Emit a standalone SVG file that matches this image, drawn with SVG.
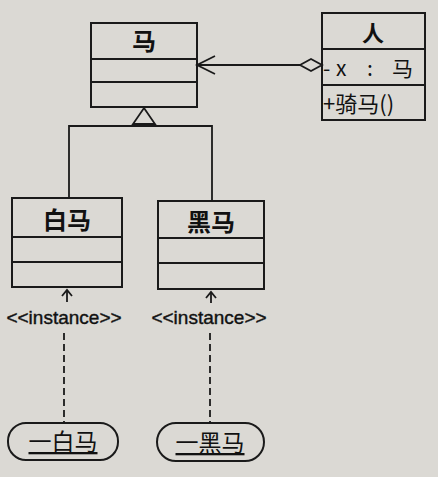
<svg xmlns="http://www.w3.org/2000/svg" width="438" height="477" viewBox="0 0 438 477">
<defs>
<style>
.box{fill:none;stroke:#1a1a1a;stroke-width:2}
.ln{fill:none;stroke:#1a1a1a;stroke-width:1.8}
.t{font-family:"Noto Sans CJK SC","Liberation Sans",sans-serif;fill:#111}
.nm{font-size:20px;font-weight:bold;text-anchor:middle}
.st{font-size:19px;text-anchor:middle;font-family:"Liberation Sans",sans-serif;fill:#111;stroke:#111;stroke-width:0.4}
.ob{font-size:21px;text-anchor:middle;text-decoration:underline}
</style>
</defs>
<rect width="438" height="477" fill="#dbd9d4"/>
<g id="ma">
<rect class="box" x="91" y="23" width="106" height="84"/>
<line class="ln" x1="91" y1="59" x2="197" y2="59"/>
<line class="ln" x1="91" y1="82" x2="197" y2="82"/>
<text class="t nm" x="144" y="50" style="font-size:24px">马</text>
</g>
<g id="ren">
<rect class="box" x="322" y="13" width="103" height="107"/>
<line class="ln" x1="322" y1="49" x2="425" y2="49"/>
<line class="ln" x1="322" y1="85" x2="425" y2="85"/>
<text class="t nm" x="373" y="41" style="font-size:22px">人</text>
<text class="t" y="76" font-size="21"><tspan x="323">-</tspan><tspan x="336">x</tspan><tspan x="367">:</tspan><tspan x="392">马</tspan></text>
<text class="t" x="323" y="112" font-size="22">+骑马()</text>
</g>
<g id="baima">
<rect class="box" x="12" y="198" width="110" height="89"/>
<line class="ln" x1="12" y1="237" x2="122" y2="237"/>
<line class="ln" x1="12" y1="262" x2="122" y2="262"/>
<text class="t nm" x="67" y="229" style="font-size:24px">白马</text>
</g>
<g id="heima">
<rect class="box" x="158" y="201" width="106" height="88"/>
<line class="ln" x1="158" y1="238" x2="264" y2="238"/>
<line class="ln" x1="158" y1="263" x2="264" y2="263"/>
<text class="t nm" x="211" y="231" style="font-size:24px">黑马</text>
</g>
<g id="obj-baima">
<rect class="box" x="8" y="423" width="110" height="37" rx="18" ry="18"/>
<text class="t ob" x="63" y="450" style="font-size:23px">一白马</text>
</g>
<g id="obj-heima">
<rect class="box" x="157" y="423" width="107" height="38" rx="19" ry="19"/>
<text class="t ob" x="210" y="451" style="font-size:23px">一黑马</text>
</g>
<g id="connectors">
<line class="ln" x1="197" y1="65" x2="300" y2="65"/>
<polyline class="ln" points="215,56 197,65 215,74"/>
<polygon class="ln" fill="#dbd9d4" points="300,65 311,59 322,65 311,71"/>
<polygon class="ln" fill="#dbd9d4" points="144,108 155,124 133,124"/>
<line class="ln" x1="144" y1="124" x2="144" y2="126"/>
<polyline class="ln" points="69,198 69,126 212,126 212,201"/>
<line class="ln" x1="67" y1="290" x2="67" y2="302"/>
<polyline class="ln" points="62,296 67,290 72,296"/>
<line class="ln" x1="211" y1="292" x2="211" y2="303"/>
<polyline class="ln" points="206,298 211,292 216,298"/>
<text class="st" x="64" y="324">&lt;&lt;instance&gt;&gt;</text>
<text class="st" x="209" y="324">&lt;&lt;instance&gt;&gt;</text>
<line class="ln" x1="64" y1="333" x2="64" y2="423" stroke-dasharray="7,4"/>
<line class="ln" x1="210" y1="333" x2="210" y2="423" stroke-dasharray="7,4"/>
</g>
</svg>
